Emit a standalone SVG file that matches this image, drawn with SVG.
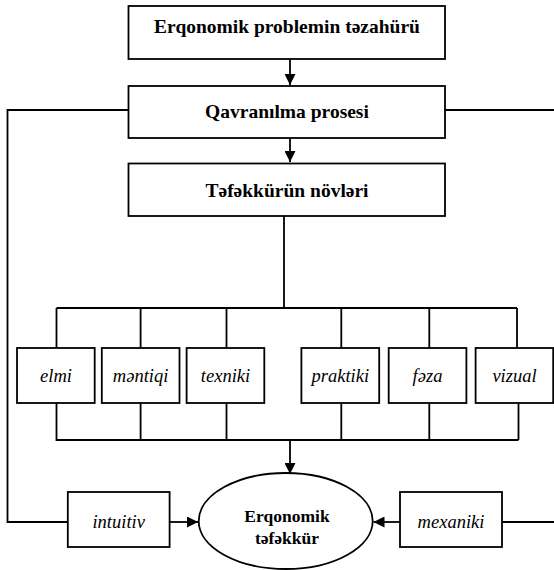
<svg xmlns="http://www.w3.org/2000/svg" width="554" height="570" viewBox="0 0 554 570">
<style>
.box{fill:#fff;stroke:#000;stroke-width:1.8}
.ln{fill:none;stroke:#000;stroke-width:1.8}
text{font-family:'Liberation Serif','DejaVu Serif',serif;fill:#000;text-anchor:middle}
.tb{font-weight:bold;font-size:19.5px}
.ti{font-style:italic;font-size:18.5px}
.te{font-weight:bold;font-size:17.5px}
</style>
<defs>
<marker id="ah" markerUnits="userSpaceOnUse" markerWidth="12" markerHeight="11" refX="11" refY="5.5" orient="auto">
<path d="M0,0 L11,5.5 L0,11 Z" fill="#000"/>
</marker>
</defs>
<rect width="554" height="570" fill="#fff"/>
<g id="connectors">
<path class="ln" d="M128,110 H7.5 V522 H68"/>
<path class="ln" d="M445,110 H554"/>
<path class="ln" d="M502,522 H554"/>
<path class="ln" d="M290,59 V85" marker-end="url(#ah)"/>
<path class="ln" d="M290,138 V162" marker-end="url(#ah)"/>
<path class="ln" d="M284,216 V308"/>
<path class="ln" d="M56.5,308 H517 M56.5,308 V348 M140.6,308 V348 M226.5,308 V348 M341.3,308 V348 M429.3,308 V348 M517,308 V348"/>
<path class="ln" d="M56.5,403 V440 H518.5 M140.6,403 V440 M226.5,403 V440 M341.3,403 V440 M429.3,403 V440 M518.5,403 V440"/>
<path class="ln" d="M290,440 V474" marker-end="url(#ah)"/>
<path class="ln" d="M169.6,522 H198" marker-end="url(#ah)"/>
<path class="ln" d="M400,522 H373.5" marker-end="url(#ah)"/>
</g>
<g id="n-problem"><rect class="box" x="128.5" y="6" width="316.5" height="53"/><text class="tb" x="287" y="33">Erqonomik problemin təzahürü</text></g>
<g id="n-qavranilma"><rect class="box" x="128.5" y="86" width="316.5" height="52"/><text class="tb" x="287" y="117.5">Qavranılma prosesi</text></g>
<g id="n-novleri"><rect class="box" x="128.5" y="163.5" width="316.5" height="52.5"/><text class="tb" x="287" y="197">Təfəkkürün növləri</text></g>
<g id="n-elmi"><rect class="box" x="17" y="348" width="77.7" height="55"/><text class="ti" x="56" y="381.5">elmi</text></g>
<g id="n-mentiqi"><rect class="box" x="101.8" y="348" width="77.7" height="55"/><text class="ti" x="140.6" y="381.5">məntiqi</text></g>
<g id="n-texniki"><rect class="box" x="186.6" y="348" width="77.7" height="55"/><text class="ti" x="225.5" y="381.5">texniki</text></g>
<g id="n-praktiki"><rect class="box" x="301.4" y="348" width="77.8" height="55"/><text class="ti" x="340.3" y="381.5">praktiki</text></g>
<g id="n-feza"><rect class="box" x="388.7" y="348" width="77.7" height="55"/><text class="ti" x="427.5" y="381.5">fəza</text></g>
<g id="n-vizual"><rect class="box" x="475.6" y="348" width="77.6" height="55"/><text class="ti" x="514.5" y="381.5">vizual</text></g>
<g id="n-intuitiv"><rect class="box" x="67.8" y="492" width="101.8" height="55"/><text class="ti" x="118.7" y="528">intuitiv</text></g>
<g id="n-mexaniki"><rect class="box" x="400" y="492" width="102" height="55"/><text class="ti" x="451" y="528">mexaniki</text></g>
<g id="n-erqonomik-tefekkur"><ellipse class="box" cx="285.7" cy="521" rx="87" ry="48"/><text class="te" x="287" y="521.5">Erqonomik</text><text class="te" x="287" y="543.5">təfəkkür</text></g>
</svg>
